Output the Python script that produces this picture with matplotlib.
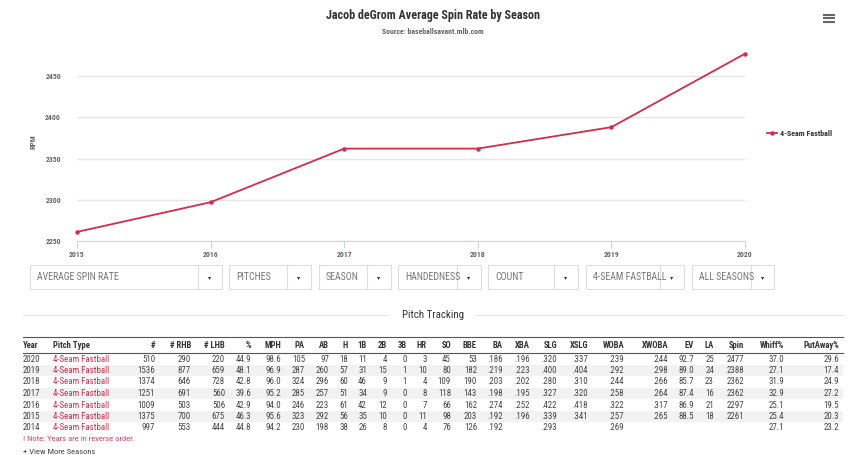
import numpy as np
import matplotlib.pyplot as plt
from matplotlib.patches import Rectangle

plt.rcParams['font.family'] = ['Roboto Condensed', 'Roboto', 'DejaVu Sans']

# chart data
seasons = ['2015', '2016', '2017', '2018', '2019', '2020']
spin = [2261, 2297, 2362, 2362, 2388, 2477]
y_ticks = [2250, 2300, 2350, 2400, 2450]

# filter dropdowns under the chart
dropdowns = ['AVERAGE SPIN RATE', 'PITCHES', 'SEASON', 'HANDEDNESS', 'COUNT', '4-SEAM FASTBALL', 'ALL SEASONS']

# pitch tracking table
columns = ['Year', 'Pitch Type', '#', '# RHB', '# LHB', '%', 'MPH', 'PA', 'AB', 'H', '1B', '2B', '3B', 'HR',
           'SO', 'BBE', 'BA', 'XBA', 'SLG', 'XSLG', 'WOBA', 'XWOBA', 'EV', 'LA', 'Spin', 'Whiff%', 'PutAway%']
rows = [
    ['2020', '4-Seam Fastball', '510', '290', '220', '44.9', '98.6', '105', '97', '18', '11', '4', '0', '3',
     '45', '53', '.186', '.196', '.320', '.337', '.239', '.244', '92.7', '25', '2477', '37.0', '29.6'],
    ['2019', '4-Seam Fastball', '1536', '877', '659', '48.1', '96.9', '287', '260', '57', '31', '15', '1', '10',
     '80', '182', '.219', '.223', '.400', '.404', '.292', '.298', '89.0', '24', '2388', '27.1', '17.4'],
    ['2018', '4-Seam Fastball', '1374', '646', '728', '42.8', '96.0', '324', '296', '60', '46', '9', '1', '4',
     '109', '190', '.203', '.202', '.280', '.310', '.244', '.266', '85.7', '23', '2362', '31.9', '24.9'],
    ['2017', '4-Seam Fastball', '1251', '691', '560', '39.6', '95.2', '285', '257', '51', '34', '9', '0', '8',
     '118', '143', '.198', '.195', '.327', '.320', '.258', '.264', '87.4', '16', '2362', '32.9', '27.2'],
    ['2016', '4-Seam Fastball', '1009', '503', '506', '42.9', '94.0', '246', '223', '61', '42', '12', '0', '7',
     '66', '162', '.274', '.252', '.422', '.418', '.322', '.317', '86.9', '21', '2297', '25.1', '19.5'],
    ['2015', '4-Seam Fastball', '1375', '700', '675', '46.3', '95.6', '323', '292', '56', '35', '10', '0', '11',
     '98', '203', '.192', '.196', '.339', '.341', '.257', '.265', '88.5', '18', '2261', '25.4', '20.3'],
    ['2014', '4-Seam Fastball', '997', '553', '444', '44.8', '94.2', '230', '198', '38', '26', '8', '0', '4',
     '76', '126', '.192', '', '.293', '', '.269', '', '', '', '', '27.1', '23.2'],
]

RED = '#d22d49'
W, H = 850, 455

fig = plt.figure(figsize=(8.5, 4.55), dpi=100)

# page layer in pixel coordinates
page = fig.add_axes([0, 0, 1, 1])
page.set_xlim(0, W)
page.set_ylim(H, 0)
page.axis('off')

# line chart
x0, x1, ytop, ybot = 77, 745, 43, 241
ax = fig.add_axes([x0 / W, 1 - ybot / H, (x1 - x0) / W, (ybot - ytop) / H])
ax.patch.set_alpha(0)
xs = np.arange(len(seasons))
ax.plot(xs, spin, color=RED, lw=1.3, marker='o', ms=2.2, label='4-Seam Fastball', clip_on=False, zorder=3)
ax.set_xlim(0, len(seasons) - 1)
ax.set_ylim(2250, 2490)
ax.set_yticks(y_ticks)
ax.set_xticks(xs)
ax.set_xticklabels(seasons)
ax.grid(axis='y', color='#e6e6e6', lw=1)
for s in ['top', 'right', 'left']:
    ax.spines[s].set_visible(False)
ax.spines['bottom'].set_color('#ccd6eb')
ax.tick_params(axis='y', length=0, pad=11.5, labelsize=5.6, labelcolor='#666666')
ax.tick_params(axis='x', length=5, width=0.8, color='#ccd6eb', pad=2, labelsize=5.6, labelcolor='#666666')
for lab in ax.get_xticklabels() + ax.get_yticklabels():
    lab.set_fontweight('bold')
ax.set_ylabel('RPM', fontsize=5.6, fontweight='bold', color='#666666')
ax.yaxis.set_label_coords((36 - x0) / (x1 - x0), 0.5)
ax.legend(loc='center left', bbox_to_anchor=(760 / W, 1 - 133 / H), bbox_transform=fig.transFigure,
          frameon=False, prop={'size': 5.8, 'weight': 'bold'}, handlelength=1.2, handletextpad=0.4,
          labelcolor='#333333')

# titles
fig.text(433 / W, 1 - 16 / H, 'Jacob deGrom Average Spin Rate by Season', ha='center', va='center',
         fontsize=8.7, fontweight='bold', color='#333333')
fig.text(433 / W, 1 - 32 / H, 'Source: baseballsavant.mlb.com', ha='center', va='center',
         fontsize=5.6, fontweight='bold', color='#666666')

# menu icon
for yy in [15, 18.3, 21.7]:
    page.plot([823, 835], [yy, yy], color='#666666', lw=1.5, solid_capstyle='butt')

# dropdowns: (left, divider, right)
boxes = [(30, 198, 222), (229, 287, 311), (319, 367, 391), (398, 457, 481),
         (488, 554, 578), (586, 660, 684), (692, 751, 774)]
for label, (bl, bd, br) in zip(dropdowns, boxes):
    page.add_patch(Rectangle((bl, 265), br - bl, 24, fill=False, ec='#dddddd', lw=0.8))
    page.plot([bd, bd], [265, 289], color='#dddddd', lw=0.8)
    t = page.text(bl + 7, 277.5, label, ha='left', va='center', fontsize=7.1, color='#777777')
    t.set_clip_path(Rectangle((bl, 265), bd - bl, 24, transform=page.transData))
    page.text((bd + br) / 2, 277.5, '\u25be', ha='center', va='center', fontsize=4.5, color='#333333',
              family='DejaVu Sans')

# section heading
page.text(433, 315, 'Pitch Tracking', ha='center', va='center', fontsize=7.8, color='#333333')
page.plot([23, 388], [314.5, 314.5], color='#e5e5e5', lw=0.8)
page.plot([476, 843], [314.5, 314.5], color='#e5e5e5', lw=0.8)

# table
col_x = [23, 53, 155, 191, 225, 251, 281, 305, 329, 348, 367, 387, 407, 427,
         451, 477, 503, 530, 557, 588, 624, 668, 694, 714, 744, 784, 839]
tl, tr = 23, 843
page.plot([tl, tr], [336.5, 336.5], color='#555555', lw=0.8)
page.plot([tl, tr], [353, 353], color='#555555', lw=0.8)
for i, name in enumerate(columns):
    page.text(col_x[i], 345, name, ha='left' if i < 2 else 'right', va='center',
              fontsize=6.2, fontweight='bold', color='#333333')

row_y0, row_h = 359, 11.5
for r, row in enumerate(rows):
    yc = row_y0 + r * row_h
    if r % 2 == 1:
        page.add_patch(Rectangle((tl, yc - row_h / 2), tr - tl, row_h, color='#f2f2f2', lw=0, zorder=0))
    for i, val in enumerate(row):
        page.text(col_x[i], yc, val, ha='left' if i < 2 else 'right', va='center', fontsize=6.4,
                  color=RED if i == 1 else '#444444')

page.text(23, 439, '! Note: Years are in reverse order.', ha='left', va='center', fontsize=6.1, color='#e0405a')
page.text(23, 451.5, '+ View More Seasons', ha='left', va='center', fontsize=6.1, color='#444444')

fig.savefig('out.png', dpi=100)
